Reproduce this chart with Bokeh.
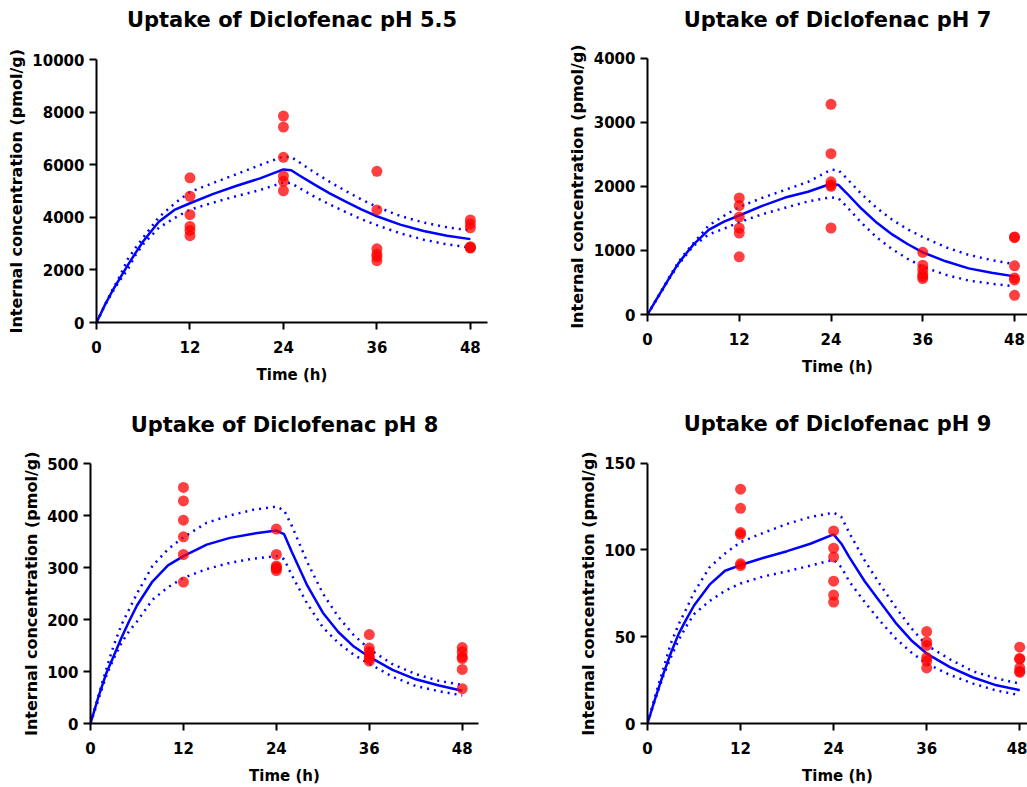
from bokeh.plotting import figure
from bokeh.layouts import column, row
from bokeh.embed import file_html
from bokeh.resources import INLINE
from bokeh.models import FixedTicker, Label, Title

# ---------------- data ----------------
titles = ["Uptake of Diclofenac pH 5.5", "Uptake of Diclofenac pH 7",
          "Uptake of Diclofenac pH 8", "Uptake of Diclofenac pH 9"]
y_label = "Internal concentration (pmol/g)"
x_label = "Time (h)"
x_ticks = [0, 12, 24, 36, 48]
y_ticks_55 = [0, 2000, 4000, 6000, 8000, 10000]
y_ticks_7 = [0, 1000, 2000, 3000, 4000]
y_ticks_8 = [0, 100, 200, 300, 400, 500]
y_ticks_9 = [0, 50, 100, 150]

# observed sampling times (6 replicates each)
obs_t = [12] * 6 + [24] * 6 + [36] * 6 + [48] * 6

obs_55 = [5500, 4800, 4100, 3650, 3500, 3300,
          7850, 7430, 6280, 5570, 5370, 5010,
          5750, 4280, 2800, 2600, 2500, 2350,
          3900, 3750, 3600, 2880, 2830, 2850]
obs_7 = [1820, 1700, 1520, 1350, 1270, 900,
         3280, 2510, 2070, 2020, 2000, 1350,
         970, 770, 700, 630, 590, 560,
         1210, 1200, 760, 570, 540, 300]
obs_8 = [454, 428, 391, 359, 325, 272,
         374, 325, 303, 300, 298, 294,
         171, 145, 138, 130, 125, 120,
         146, 138, 128, 125, 104, 67]
obs_9 = [135, 124, 110, 109, 92, 91,
         111, 101, 96, 82, 74, 70,
         53, 47, 45, 38, 36, 32,
         44, 37.5, 37, 32, 30, 29.5]

# model curves (fit, upper and lower band)
fit_t = [0, 1, 2, 3, 4, 5, 6, 8, 10, 12, 15, 18, 21, 24, 25, 26, 28, 30, 32, 34, 36, 39, 42, 45, 48]

fit_55 = [0, 620, 1180, 1680, 2170, 2640, 3090, 3830, 4280, 4535, 4890, 5200, 5480, 5820,
          5790, 5600, 5240, 4900, 4600, 4300, 4040, 3720, 3480, 3300, 3170]
up_55 = [0, 630, 1220, 1760, 2400, 2830, 3230, 4000, 4520, 4960, 5310, 5640, 5990, 6310,
         6290, 6100, 5700, 5340, 5000, 4680, 4400, 4050, 3800, 3620, 3500]
lo_55 = [0, 600, 1140, 1600, 2010, 2560, 2980, 3600, 3970, 4290, 4560, 4810, 5040, 5320,
         5300, 5120, 4780, 4480, 4200, 3930, 3700, 3390, 3150, 2970, 2850]

fit_7 = [0, 200, 400, 600, 790, 945, 1090, 1320, 1450, 1545, 1695, 1825, 1915, 2040,
         2020, 1900, 1650, 1430, 1250, 1100, 970, 830, 720, 650, 595]
up_7 = [0, 205, 410, 615, 810, 970, 1110, 1390, 1540, 1680, 1820, 1945, 2070, 2260,
        2250, 2130, 1880, 1660, 1480, 1330, 1210, 1050, 930, 850, 785]
lo_7 = [0, 195, 390, 585, 770, 920, 1070, 1250, 1340, 1440, 1565, 1665, 1765, 1830,
        1810, 1690, 1430, 1200, 1020, 870, 745, 620, 530, 480, 440]

fit_8 = [0, 50, 95, 130, 165, 197, 227, 273, 304, 322, 344, 357, 365, 371,
         364, 330, 265, 213, 176, 148, 128, 103, 85, 73, 63]
up_8 = [0, 52, 103, 150, 190, 220, 250, 303, 335, 358, 386, 400, 411, 417,
        410, 380, 310, 250, 205, 170, 143, 114, 95, 82, 74]
lo_8 = [0, 45, 90, 125, 155, 178, 196, 238, 262, 280, 297, 309, 317, 322,
        316, 285, 230, 185, 155, 132, 115, 90, 72, 62, 54]

fit_9 = [0, 14.5, 28, 40.5, 51.5, 60, 68, 80, 88, 91.3, 95.5, 99.3, 103.6, 109,
         103.6, 96, 82, 70, 58, 48, 40.3, 32.5, 26.5, 22, 19.2]
up_9 = [0, 16, 31, 46, 57, 66, 75.5, 90, 98, 104.5, 110, 115, 119, 121.5,
        119, 110, 94, 80, 67, 55, 45.1, 37, 30, 26, 23]
lo_9 = [0, 14, 27, 38, 48, 56, 63, 70.5, 76.5, 80.7, 84.8, 87.7, 91, 94.4,
        90, 82, 70, 59, 49, 41, 34.5, 28, 23, 19, 16.3]

FONT = "DejaVu Sans"
YLAB_LEN = 285  # approx. rendered length of the y label at 16px


def panel(title, obs, fit, up, lo, yticks, w, h, left, right, y0_px, ytop_px, title_px, xend):
    # frame spans the whole height above the x axis; the y axis is bounded to its ticks
    frame_h = y0_px
    ytop = yticks[-1]
    yend = ytop * frame_h / (y0_px - ytop_px)
    p = figure(width=w, height=h, output_backend="svg", toolbar_location=None,
               x_range=(0, xend), y_range=(0, yend),
               min_border_left=left, min_border_right=right,
               min_border_top=0, min_border_bottom=h - y0_px)
    p.frame_align = False
    p.outline_line_color = None
    p.grid.visible = False
    p.background_fill_color = "white"
    p.border_fill_color = "white"

    p.add_layout(Label(x=xend / 2, y=yend * (y0_px - title_px) / frame_h,
                       text=title, text_align="center", text_baseline="alphabetic",
                       text_font=FONT, text_font_size="21px", text_font_style="bold",
                       text_color="black"))

    p.line(fit_t, up, line_color="#0000ff", line_width=2.5, line_dash="2 5")
    p.line(fit_t, lo, line_color="#0000ff", line_width=2.5, line_dash="2 5")
    p.line(fit_t, fit, line_color="#0000ff", line_width=2.5)
    p.scatter(obs_t, obs, size=11, fill_color="#ff0000", fill_alpha=0.75, line_color=None)

    p.xaxis.ticker = FixedTicker(ticks=x_ticks)
    p.yaxis.ticker = FixedTicker(ticks=yticks)
    p.yaxis.bounds = (0, ytop)
    p.xaxis.axis_label = x_label
    for ax in (p.xaxis, p.yaxis):
        ax.axis_line_width = 2
        ax.axis_line_color = "black"
        ax.major_tick_line_width = 2
        ax.major_tick_line_color = "black"
        ax.major_tick_out = 7
        ax.major_tick_in = 0
        ax.minor_tick_line_color = None
        ax.major_label_text_font = FONT
        ax.major_label_text_font_style = "bold"
        ax.major_label_text_font_size = "15px"
        ax.major_label_text_color = "black"
        ax.axis_label_text_font = FONT
        ax.axis_label_text_font_style = "bold"
        ax.axis_label_text_font_size = "15px"
        ax.axis_label_text_color = "black"
    p.xaxis.major_label_standoff = 11
    p.xaxis.axis_label_standoff = 10
    p.yaxis.major_label_standoff = 5

    # y label as a side title, centred on the bounded axis (not on the taller frame)
    off = (y0_px - ytop_px) / 2 - YLAB_LEN / 2
    p.add_layout(Title(text=y_label, align="left", offset=off, standoff=8,
                       text_font=FONT, text_font_size="16px", text_font_style="bold",
                       text_color="black"), "left")
    return p


p1 = panel(titles[0], obs_55, fit_55, up_55, lo_55, y_ticks_55, 513, 393, 94, 26, 322, 59, 19, 50.2)
p2 = panel(titles[1], obs_7, fit_7, up_7, lo_7, y_ticks_7, 514, 393, 134, 0, 314, 57.7, 19, 49.7)
p3 = panel(titles[2], obs_8, fit_8, up_8, lo_8, y_ticks_8, 513, 394, 90, 35, 330, 70, 31, 50.1)
p4 = panel(titles[3], obs_9, fit_9, up_9, lo_9, y_ticks_9, 514, 394, 134, 0, 330, 69.7, 30, 49.0)

layout = column(row(p1, p2), row(p3, p4))
open("out.html", "w").write(file_html(layout, INLINE))
